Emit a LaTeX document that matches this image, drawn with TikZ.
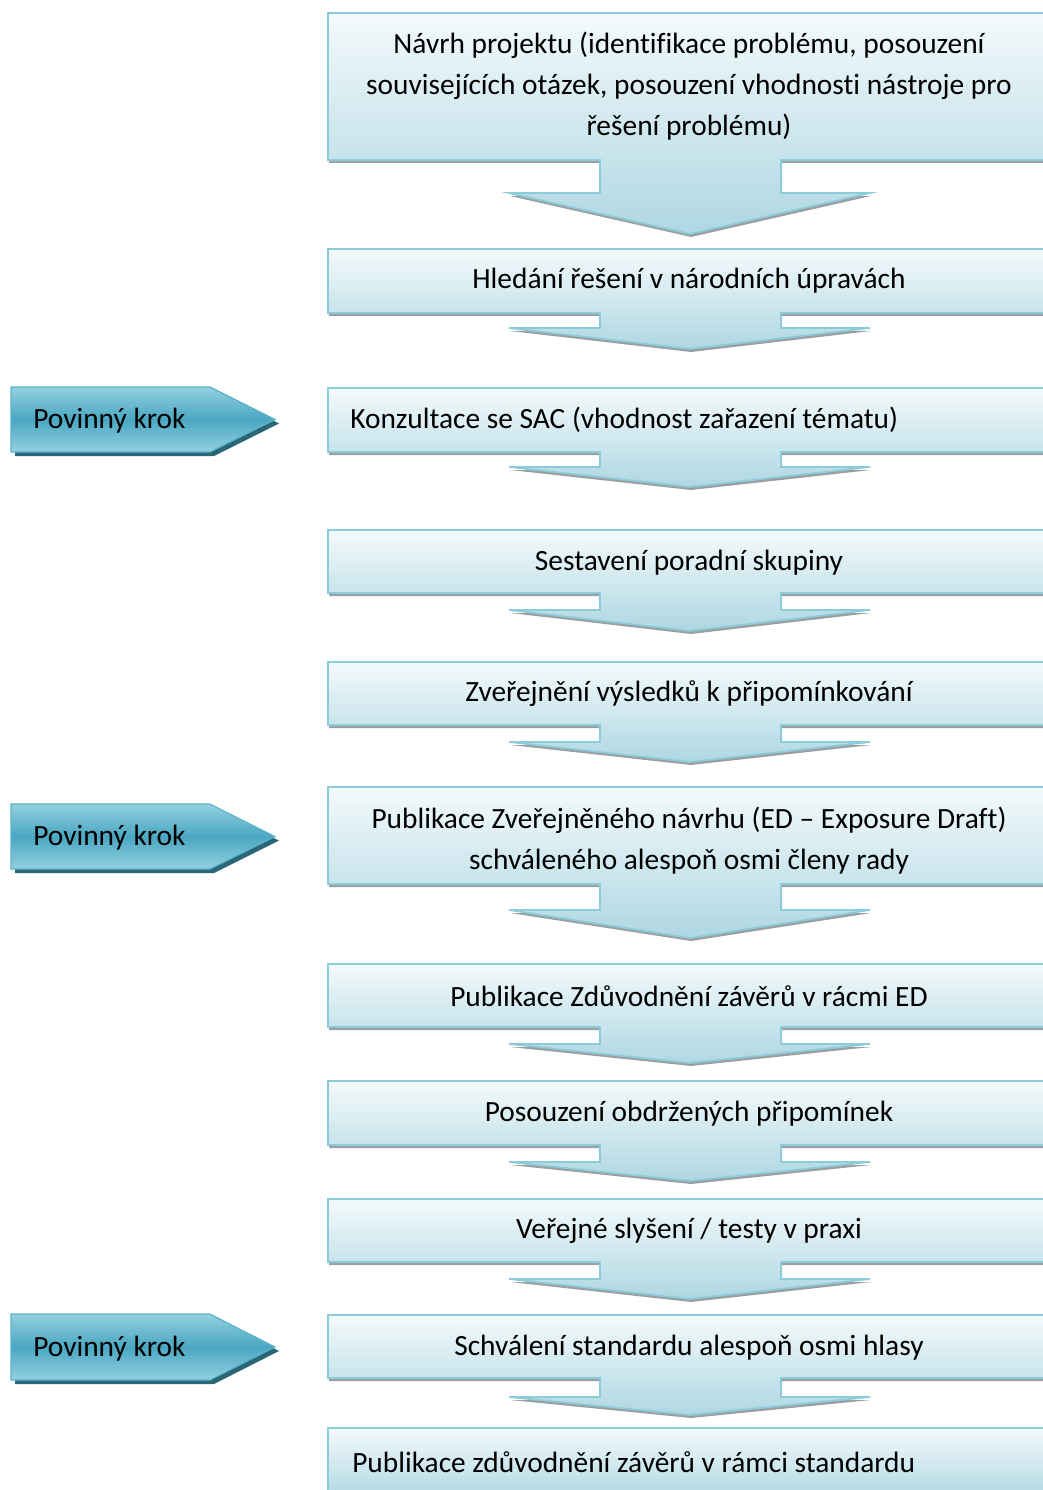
\documentclass[tikz,border=0pt]{standalone}
\usepackage{fontspec}
\setmainfont{Carlito}[Ligatures=CommonOff]
\definecolor{boxtop}{HTML}{F4FAFC}
\definecolor{boxbot}{HTML}{AED7E2}
\definecolor{boxline}{HTML}{8CCBD9}
\definecolor{boxshade}{HTML}{9A9FA2}
\definecolor{tagtop}{HTML}{93D0DE}
\definecolor{tagmid}{HTML}{4AA7C3}
\definecolor{tagline}{HTML}{5AB3CB}
\definecolor{tagshade}{HTML}{2A6676}
\begin{document}
\begin{tikzpicture}[x=0.025cm, y=-0.025cm, line join=miter,
  step body/.style={top color=boxtop, bottom color=boxbot, draw=boxline, line width=1.2pt},
  step shade/.style={fill=boxshade},
  tag body/.style={top color=tagtop, bottom color=tagtop, middle color=tagmid, draw=tagline, line width=0.8pt},
  tag shade/.style={fill=tagshade}]
\useasboundingbox (0,0) rectangle (1042,1490);
%krabice se sipkou
\foreach \ya/\yb/\yc/\yd in {13/160/193/234, 249/313/328/349, 388/452/467/487, 530/593/610/631, 662/725/742/762, 787/884/910/938, 964/1027/1044/1063, 1081/1145/1162/1181, 1199/1262/1279/1299, 1315/1378/1397/1415}{
  \fill[step shade, shift={(1,3)}] (328,\ya) -- (1046,\ya) -- (1046,\yb) -- (781,\yb) -- (781,\yc) -- (870,\yc) -- (690,\yd) -- (509,\yc) -- (600,\yc) -- (600,\yb) -- (328,\yb) -- cycle;
  \path[step body] (328,\ya) -- (1046,\ya) -- (1046,\yb) -- (781,\yb) -- (781,\yc) -- (870,\yc) -- (690,\yd) -- (509,\yc) -- (600,\yc) -- (600,\yb) -- (328,\yb) -- cycle;
}
\path[step body] (328,1428) rectangle (1046,1500);
%povinne kroky
\foreach \ya/\ym/\yb in {387/419.5/452, 804/836.5/869, 1314/1347/1380}{
  \fill[tag shade, shift={(4,4)}] (11,\ya) -- (210,\ya) -- (275,\ym) -- (210,\yb) -- (11,\yb) -- cycle;
  \path[tag body] (11,\ya) -- (210,\ya) -- (275,\ym) -- (210,\yb) -- (11,\yb) -- cycle;
}
\begin{scope}[every node/.style={font=\fontsize{20.9}{29.2}\selectfont, inner sep=0pt, align=center}]
\node (s1) at (689,86) {Návrh projektu (identifikace problému, posouzení\\souvisejících otázek, posouzení vhodnosti nástroje pro\\řešení problému)};
\node (s2) at (689,281) {Hledání řešení v národních úpravách};
\node[anchor=west] (s3) at (350,420) {Konzultace se SAC (vhodnost zařazení tématu)};
\node (s4) at (689,563) {Sestavení poradní skupiny};
\node (s5) at (689,694) {Zveřejnění výsledků k připomínkování};
\node (s6) at (689,841) {Publikace Zveřejněného návrhu (ED – Exposure Draft)\\schváleného alespoň osmi členy rady};
\node (s7) at (689,996) {Publikace Zdůvodnění závěrů v rácmi ED};
\node (s8) at (689,1114) {Posouzení obdržených připomínek};
\node (s9) at (689,1231) {Veřejné slyšení / testy v praxi};
\node (s10) at (689,1348) {Schválení standardu alespoň osmi hlasy};
\node[anchor=west] (s11) at (352,1462) {Publikace zdůvodnění závěrů v rámci standardu};
\node[anchor=west] (p1) at (33,421) {Povinný krok};
\node[anchor=west] (p2) at (33,838) {Povinný krok};
\node[anchor=west] (p3) at (33,1349) {Povinný krok};
\end{scope}
\end{tikzpicture}
\end{document}
